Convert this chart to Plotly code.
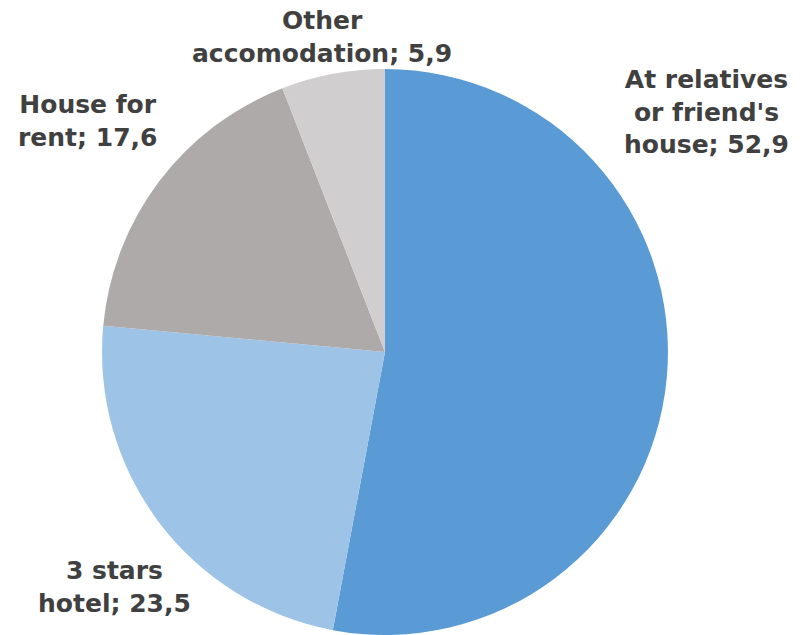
import plotly.graph_objects as go

# Accommodation type shares (%)
labels = ["At relatives<br>or friend's<br>house", "3 stars<br>hotel", "House for<br>rent", "Other<br>accomodation"]
values = [52.9, 23.5, 17.6, 5.9]
colors = ["#5B9BD5", "#9DC3E6", "#AEAAAA", "#D0CECE"]

# label anchor positions (paper coordinates)
label_x = [0.875, 0.1425, 0.108, 0.3996]
label_y = [0.8236, 0.075, 0.809, 0.9425]


def fmt(v):
    return f"{v:.1f}".replace(".", ",")


fig = go.Figure(
    go.Pie(
        labels=labels,
        values=values,
        marker=dict(colors=colors, line=dict(width=0)),
        sort=False,
        direction="clockwise",
        rotation=0,
        textinfo="none",
        hoverinfo="label+value",
        domain=dict(x=[0.1264, 0.8277], y=[0.0, 0.8913]),
        showlegend=False,
    )
)

for lab, v, x, y in zip(labels, values, label_x, label_y):
    parts = lab.split("<br>")
    text = "<br>".join(parts[:-1] + [f"{parts[-1]}; {fmt(v)}"])
    fig.add_annotation(
        x=x, y=y, xref="paper", yref="paper",
        text=f"<b>{text}</b>", showarrow=False,
        xanchor="center", yanchor="middle", align="center",
        font=dict(family="DejaVu Sans", size=25, color="#404040"),
    )

fig.update_layout(
    width=807, height=635,
    margin=dict(l=0, r=0, t=0, b=0),
    paper_bgcolor="white", plot_bgcolor="white",
)

fig.write_html("out.html")
